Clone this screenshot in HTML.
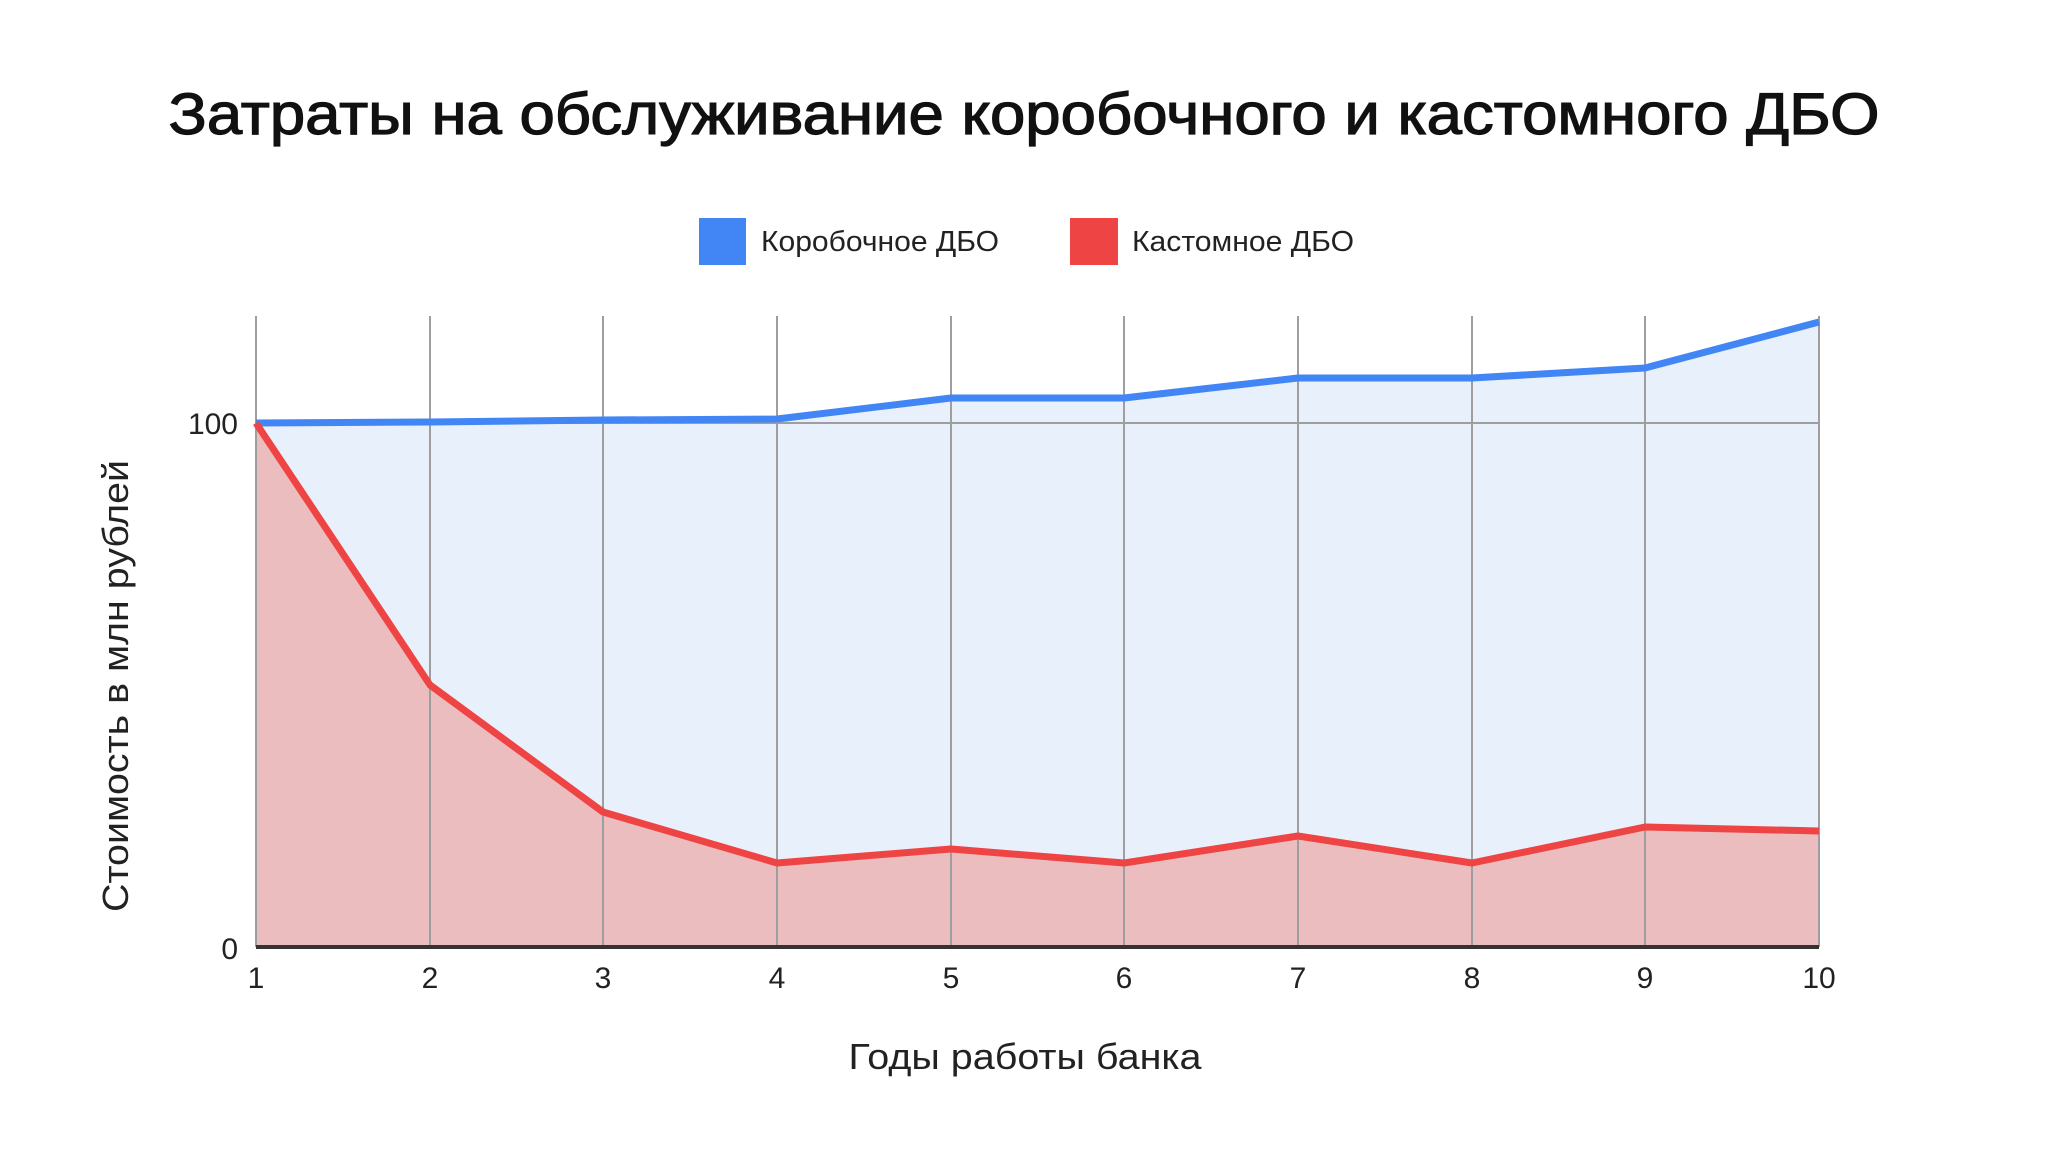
<!DOCTYPE html>
<html><head><meta charset="utf-8"><style>html,body{margin:0;padding:0;background:#fff}</style></head>
<body>
<svg width="2048" height="1152" viewBox="0 0 2048 1152" xmlns="http://www.w3.org/2000/svg" font-family="Liberation Sans, sans-serif">
<rect width="2048" height="1152" fill="#fff"/>
<text x="1024" y="134" text-anchor="middle" font-size="58" fill="#111" stroke="#111" stroke-width="1.2" textLength="1711" lengthAdjust="spacingAndGlyphs">Затраты на обслуживание коробочного и кастомного ДБО</text>
<rect x="699" y="218" width="47" height="47" fill="#4285f4"/>
<text x="761" y="251" font-size="29" fill="#222" textLength="238" lengthAdjust="spacingAndGlyphs">Коробочное ДБО</text>
<rect x="1070" y="218" width="48" height="47" fill="#ef4444"/>
<text x="1132" y="251" font-size="29" fill="#222" textLength="222" lengthAdjust="spacingAndGlyphs">Кастомное ДБО</text>
<polygon fill="#e8f0fc" points="256,947 256,423 430,422 603,420 777,419 951,398 1124,398 1298,378 1472,378 1645,368 1819,322 1819,947"/>
<polygon fill="#ecbdbf" points="256,947 256,423 430,685 603,812 777,863 951,849 1124,863 1298,836 1472,863 1645,827 1819,831 1819,947"/>
<g stroke="#9e9e9e" stroke-width="2">
<line x1="256" y1="316" x2="256" y2="947"/><line x1="430" y1="316" x2="430" y2="947"/><line x1="603" y1="316" x2="603" y2="947"/><line x1="777" y1="316" x2="777" y2="947"/><line x1="951" y1="316" x2="951" y2="947"/><line x1="1124" y1="316" x2="1124" y2="947"/><line x1="1298" y1="316" x2="1298" y2="947"/><line x1="1472" y1="316" x2="1472" y2="947"/><line x1="1645" y1="316" x2="1645" y2="947"/><line x1="1819" y1="316" x2="1819" y2="947"/>
<line x1="256" y1="423" x2="1819" y2="423"/>
</g>
<line x1="256" y1="947" x2="1819" y2="947" stroke="#333" stroke-width="4"/>
<polyline fill="none" stroke="#4285f4" stroke-width="7" stroke-linejoin="round" points="256,423 430,422 603,420 777,419 951,398 1124,398 1298,378 1472,378 1645,368 1819,322"/>
<polyline fill="none" stroke="#ef4444" stroke-width="7" stroke-linejoin="round" points="256,423 430,685 603,812 777,863 951,849 1124,863 1298,836 1472,863 1645,827 1819,831"/>
<g font-size="30" fill="#222" text-anchor="end">
<text x="238" y="434">100</text><text x="238" y="959">0</text>
</g>
<g font-size="30" fill="#222" text-anchor="middle">
<text x="256" y="988">1</text><text x="430" y="988">2</text><text x="603" y="988">3</text><text x="777" y="988">4</text><text x="951" y="988">5</text><text x="1124" y="988">6</text><text x="1298" y="988">7</text><text x="1472" y="988">8</text><text x="1645" y="988">9</text><text x="1819" y="988">10</text>
</g>
<text x="1025" y="1069" text-anchor="middle" font-size="36" fill="#222" textLength="353" lengthAdjust="spacingAndGlyphs">Годы работы банка</text>
<text transform="translate(128,686) rotate(-90)" text-anchor="middle" font-size="36" fill="#222" textLength="452" lengthAdjust="spacingAndGlyphs">Стоимость в млн рублей</text>
</svg>
</body></html>
